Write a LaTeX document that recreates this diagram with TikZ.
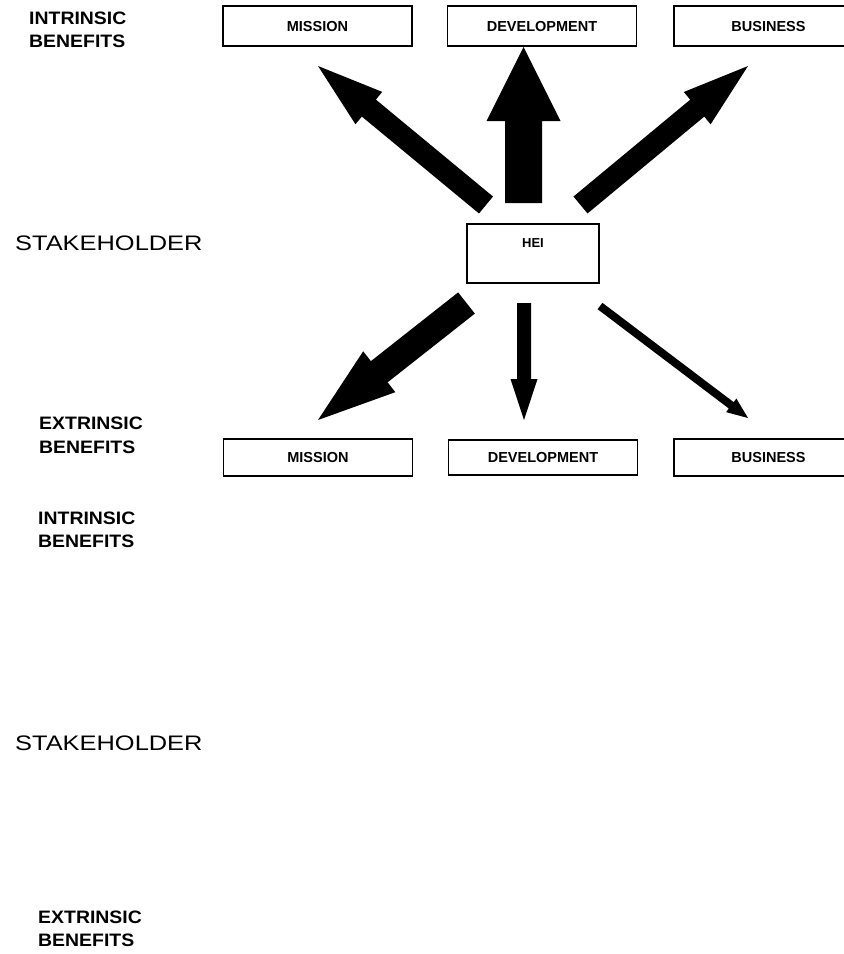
\documentclass[tikz,border=0pt]{standalone}
\usepackage{fontspec}
\setmainfont{Liberation Sans}
\usepackage{graphicx}
\usetikzlibrary{calc}

% Filled block arrow: #1 tail point, #2 tip point, #3 half shaft width,
% #4 half head width, #5 head length
\newcommand\blockarrow[5]{%
  \coordinate (ba) at ($(#2)!#5!(#1)$);
  \fill[black] (#2) -- ($(ba)!#4!90:(#2)$) -- ($(ba)!#3!90:(#2)$)
    -- ($(#1)!#3!90:(#2)$) -- ($(#1)!#3!-90:(#2)$)
    -- ($(ba)!#3!-90:(#2)$) -- ($(ba)!#4!-90:(#2)$) -- cycle;}

\begin{document}
\begin{tikzpicture}[x=1pt,y=-1pt,
  benefitbox/.style={draw=black, line width=1.3pt, minimum width=189pt,
    inner sep=0pt, font=\fontsize{14.5}{16}\selectfont\bfseries,
    text height=10.5pt, text depth=0pt},
  heibox/.style={draw=black, line width=1.3pt, minimum width=132pt,
    minimum height=59pt, inner sep=0pt},
  sidelabel/.style={anchor=west, inner sep=0pt,
    font=\fontsize{18}{20}\selectfont\bfseries, text height=13pt, text depth=0pt},
  stakelabel/.style={anchor=west, inner sep=0pt,
    font=\fontsize{21}{24}\selectfont, text height=15pt, text depth=0pt},
]
\useasboundingbox (0,0) rectangle (844,954);
\fill[white] (0,0) rectangle (844,954);
\clip (0,0) rectangle (844,954);

% left-hand labels
\node[sidelabel] (intr1) at (29,18) {\scalebox{1.08}[1]{INTRINSIC}};
\node[sidelabel] (ben1)  at (29,41) {\scalebox{1.08}[1]{BENEFITS}};
\node[stakelabel] (stake1) at (15,243) {\scalebox{1.21}[1]{STAKEHOLDER}};
\node[sidelabel] (extr1) at (39,423) {\scalebox{1.08}[1]{EXTRINSIC}};
\node[sidelabel] (ben2)  at (39,447) {\scalebox{1.08}[1]{BENEFITS}};

\node[sidelabel] (intr2) at (38,518) {\scalebox{1.08}[1]{INTRINSIC}};
\node[sidelabel] (ben3)  at (38,541) {\scalebox{1.08}[1]{BENEFITS}};
\node[stakelabel] (stake2) at (15,743) {\scalebox{1.21}[1]{STAKEHOLDER}};
\node[sidelabel] (extr2) at (38,917) {\scalebox{1.08}[1]{EXTRINSIC}};
\node[sidelabel] (ben4)  at (38,940) {\scalebox{1.08}[1]{BENEFITS}};

% intrinsic benefit boxes (the right one runs past the page edge)
\node[benefitbox, minimum height=40pt] (mis1) at (317.5,26) {MISSION};
\node[benefitbox, minimum height=40pt] (dev1) at (542,26) {DEVELOPMENT};
\node[benefitbox, minimum height=40pt] (bus1) at (768.5,26) {BUSINESS};

% stakeholder box, its label near the top
\node[heibox] (hei) at (533,253.5) {};
\node[font=\fontsize{13}{15}\selectfont\bfseries, inner sep=0pt,
  text height=9.5pt, text depth=0pt] (heit) at (533,243) {HEI};

% extrinsic benefit boxes
\node[benefitbox, minimum height=37pt] (mis2) at (318,457.5) {MISSION};
\node[benefitbox, minimum height=35pt] (dev2) at (543,457.5) {DEVELOPMENT};
\node[benefitbox, minimum height=37pt] (bus2) at (768.5,457.5) {BUSINESS};

% arrow end points
\coordinate (aT1) at (486,205);   \coordinate (aH1) at (318,66);
\coordinate (aT2) at (523.5,203); \coordinate (aH2) at (523.5,47);
\coordinate (aT3) at (580.5,205); \coordinate (aH3) at (748,66);
\coordinate (aT4) at (466.5,303); \coordinate (aH4) at (318,420);
\coordinate (aT5) at (524,303);   \coordinate (aH5) at (524,420);
\coordinate (aT6) at (600,306);   \coordinate (aH6) at (748,418);

% arrows from the HEI towards the benefits
\blockarrow{aT1}{aH1}{11pt}{21pt}{66pt}
\blockarrow{aT2}{aH2}{18.5pt}{37pt}{74pt}
\blockarrow{aT3}{aH3}{11pt}{21pt}{66pt}
\blockarrow{aT4}{aH4}{13.5pt}{26pt}{78pt}
\blockarrow{aT5}{aH5}{7pt}{13.5pt}{41pt}
\blockarrow{aT6}{aH6}{4pt}{8.5pt}{21pt}
\end{tikzpicture}
\end{document}
